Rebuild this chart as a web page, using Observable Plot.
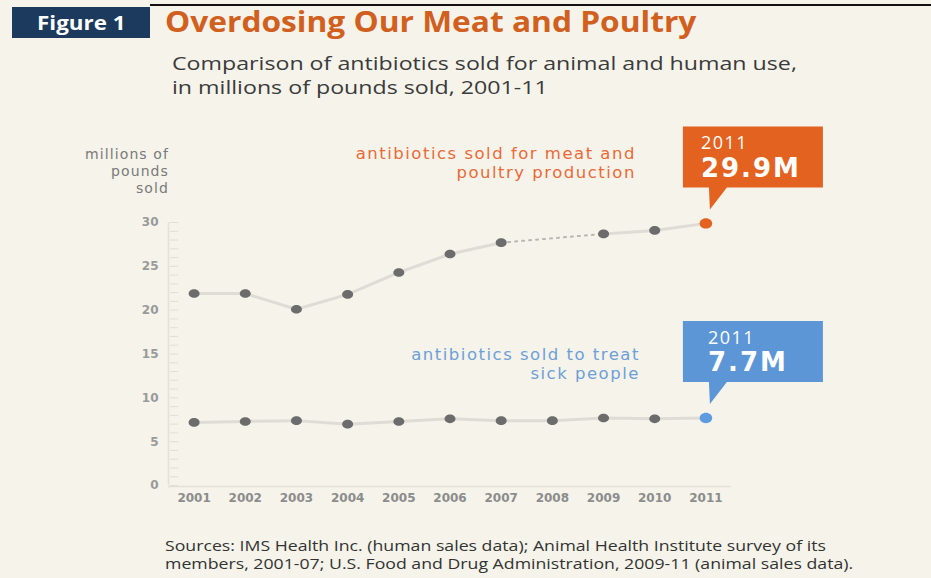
<!DOCTYPE html>
<html>
<head>
<meta charset="utf-8">
<script src="https://cdn.jsdelivr.net/npm/d3@7"></script>
<script src="https://cdn.jsdelivr.net/npm/@observablehq/plot@0.6"></script>
<style>
  html, body { margin: 0; padding: 0; background: #f5f3ea; }
  #wrap { position: relative; width: 931px; height: 578px; overflow: hidden; background: #f5f3ea; font-family: "Open Sans", "Lato", sans-serif; }
  #wrap svg { position: absolute; left: 0; top: 0; }
  .abs { position: absolute; white-space: nowrap; transform-origin: 0 0; }
  #topline { left: 150px; right: 0; top: 4px; height: 2px; background: #111; }
  #figbox { left: 12px; top: 7px; width: 138px; height: 31px; background: #1b3a5e; }
  #figtext { left: 37px; top: 7px; color: #fff; font-weight: 700; font-size: 20px; line-height: 31px; transform: scaleX(1.12); }
  #title { left: 165px; top: 1px; color: #d1601f; font-weight: 700; font-size: 29px; line-height: 40px; transform: scaleX(1.093); }
  .sub { left: 172px; color: #3b3b3b; font-size: 19px; line-height: 22px; transform: scaleX(1.22); }
  #sub1 { top: 52px; }
  #sub2 { top: 76px; }
  .ylab { left: 40px; width: 129px; text-align: right; color: #7a7a7a; font-family: "DejaVu Sans", sans-serif; font-size: 14px; letter-spacing: 1.1px; line-height: 16px; }
  .src { left: 165px; color: #333; font-size: 15px; line-height: 17px; transform: scaleX(1.18); }
  #src1 { top: 537px; }
  #src2 { top: 555px; }
</style>
</head>
<body>
<div id="wrap">
  <div id="chart"></div>
  <div class="abs" id="topline"></div>
  <div class="abs" id="figbox"></div>
  <div class="abs" id="figtext">Figure 1</div>
  <div class="abs" id="title">Overdosing Our Meat and Poultry</div>
  <div class="abs sub" id="sub1">Comparison of antibiotics sold for animal and human use,</div>
  <div class="abs sub" id="sub2">in millions of pounds sold, 2001-11</div>
  <div class="abs ylab" style="top:146px">millions of</div>
  <div class="abs ylab" style="top:163px">pounds</div>
  <div class="abs ylab" style="top:180px">sold</div>
  <div class="abs src" id="src1">Sources: IMS Health Inc. (human sales data); Animal Health Institute survey of its</div>
  <div class="abs src" id="src2">members, 2001-07; U.S. Food and Drug Administration, 2009-11 (animal sales data).</div>
</div>
<script>
// ---- data ----
const years = [2001, 2002, 2003, 2004, 2005, 2006, 2007, 2008, 2009, 2010, 2011];
const animalValues = [21.9, 21.9, 20.1, 21.8, 24.3, 26.4, 27.7, null, 28.7, 29.1, 29.9];
const humanValues = [7.2, 7.3, 7.4, 7.0, 7.3, 7.6, 7.4, 7.4, 7.7, 7.6, 7.7];
const yTicks = [0, 5, 10, 15, 20, 25, 30];
const yMinorTicks = d3.range(0, 31);
const animalLabel = "antibiotics sold for meat and\npoultry production";
const humanLabel = "antibiotics sold to treat\nsick people";
const calloutYear = "2011";
const animalCallout = "29.9M";
const humanCallout = "7.7M";

const xDomain = [2000.5, 2011.5];
const yDomain = [0, 30];

const animal = years.map((year, i) => ({year, value: animalValues[i]}));
const human = years.map((year, i) => ({year, value: humanValues[i]}));

// bridge across missing values (dotted segment)
const gaps = [];
animal.forEach((d, i) => {
  if (d.value == null && i > 0 && i < animal.length - 1) {
    gaps.push([animal[i - 1], animal[i + 1]]);
  }
});
const gapData = gaps.flatMap((pair, k) => pair.map(d => ({...d, k})));

const animalLast = [animal[animal.length - 1]];
const humanLast = [human[human.length - 1]];
const animalMid = animal.slice(0, -1).filter(d => d.value != null);
const humanMid = human.slice(0, -1);

// ---- custom symbols ----
function ellipse(rx, ry) {
  const k = 0.5523;
  return {
    draw(ctx) {
      ctx.moveTo(rx, 0);
      ctx.bezierCurveTo(rx, k * ry, k * rx, ry, 0, ry);
      ctx.bezierCurveTo(-k * rx, ry, -rx, k * ry, -rx, 0);
      ctx.bezierCurveTo(-rx, -k * ry, -k * rx, -ry, 0, -ry);
      ctx.bezierCurveTo(k * rx, -ry, rx, -k * ry, rx, 0);
      ctx.closePath();
    }
  };
}
const callout = {
  draw(ctx) {
    ctx.moveTo(-23, -97);
    ctx.lineTo(117, -97);
    ctx.lineTo(117, -36);
    ctx.lineTo(21, -36);
    ctx.lineTo(4, -14);
    ctx.lineTo(3, -36);
    ctx.lineTo(-23, -36);
    ctx.closePath();
  }
};

const lineColor = "#dfdcd5";
const dotColor = "#6c6c6c";
const orange = "#e4621f";
const blue = "#5d96d6";

const chart = Plot.plot({
  width: 931,
  height: 578,
  marginLeft: 168,
  marginRight: 200,
  marginTop: 222,
  marginBottom: 93,
  style: {background: "transparent", fontFamily: "'DejaVu Sans', sans-serif", overflow: "visible"},
  x: {domain: xDomain},
  y: {domain: yDomain},
  marks: [
    Plot.ruleY([0], {stroke: "#e5e1d5", strokeWidth: 1.5, dy: 1}),
    Plot.ruleX([xDomain[0]], {stroke: "#e5e1d5", strokeWidth: 1.5}),
    Plot.axisY({ticks: yMinorTicks, tickSize: 8, dx: 10, tickFormat: () => "", stroke: "#e2ded2", label: null}),
    Plot.axisY({ticks: yTicks, tickSize: 0, tickPadding: 10, tickFormat: d => String(d), fill: "#9a9a9a", fontSize: 12, fontWeight: 700, label: null}),
    Plot.axisX({ticks: years, tickSize: 0, tickPadding: 8, tickFormat: d => String(d), fill: "#8c8c8c", fontSize: 12, fontWeight: 700, label: null}),
    // lines
    Plot.line(animal, {x: "year", y: "value", stroke: lineColor, strokeWidth: 3}),
    Plot.line(gapData, {x: "year", y: "value", z: "k", stroke: "#b9b7b2", strokeWidth: 2, strokeDasharray: "2,5"}),
    Plot.line(human, {x: "year", y: "value", stroke: lineColor, strokeWidth: 3}),
    // dots
    Plot.dot(animalMid, {x: "year", y: "value", symbol: ellipse(5.5, 4.3), fill: dotColor}),
    Plot.dot(humanMid, {x: "year", y: "value", symbol: ellipse(5.5, 4.3), fill: dotColor}),
    Plot.dot(animalLast, {x: "year", y: "value", symbol: ellipse(6.3, 5.2), fill: orange}),
    Plot.dot(humanLast, {x: "year", y: "value", symbol: ellipse(6.3, 5.2), fill: "#5f9be0"}),
    // callouts
    Plot.dot(animalLast, {x: "year", y: "value", symbol: callout, fill: orange}),
    Plot.dot(humanLast, {x: "year", y: "value", symbol: callout, fill: blue}),
    Plot.text(animalLast, {x: "year", y: "value", text: () => calloutYear, dx: -5, dy: -80, textAnchor: "start", fill: "#fff", fontSize: 18, fontFamily: "'Open Sans', sans-serif"}),
    Plot.text(animalLast, {x: "year", y: "value", text: () => animalCallout, dx: -5, dy: -55, textAnchor: "start", fill: "#fff", fontSize: 26, fontWeight: 700}),
    Plot.text(humanLast, {x: "year", y: "value", text: () => calloutYear, dx: 2, dy: -80, textAnchor: "start", fill: "#fff", fontSize: 18, fontFamily: "'Open Sans', sans-serif"}),
    Plot.text(humanLast, {x: "year", y: "value", text: () => humanCallout, dx: 2, dy: -55, textAnchor: "start", fill: "#fff", fontSize: 26, fontWeight: 700}),
    // series labels
    Plot.text(animalLast, {x: "year", y: "value", text: () => animalLabel, dx: -70, dy: -61, textAnchor: "end", lineHeight: 19.4 / 16.5, fill: "#e96a37", fontSize: 16.5}),
    Plot.text(humanLast, {x: "year", y: "value", text: () => humanLabel, dx: -66, dy: -55, textAnchor: "end", lineHeight: 19.4 / 16.5, fill: "#6d9fd8", fontSize: 16.5})
  ]
});
const spacing = new Map([
  [animalLabel.replace("\n", ""), "1.5px"],
  [humanLabel.replace("\n", ""), "1.5px"],
  [animalCallout, "2px"],
  [humanCallout, "2px"],
  [calloutYear, "1.5px"]
]);
d3.select(chart).selectAll("text").each(function() {
  if (this.closest('g[aria-label*="axis"]')) return;
  const s = spacing.get(this.textContent);
  if (s) d3.select(this).style("letter-spacing", s);
});
document.getElementById("chart").appendChild(chart);
</script>
</body>
</html>
